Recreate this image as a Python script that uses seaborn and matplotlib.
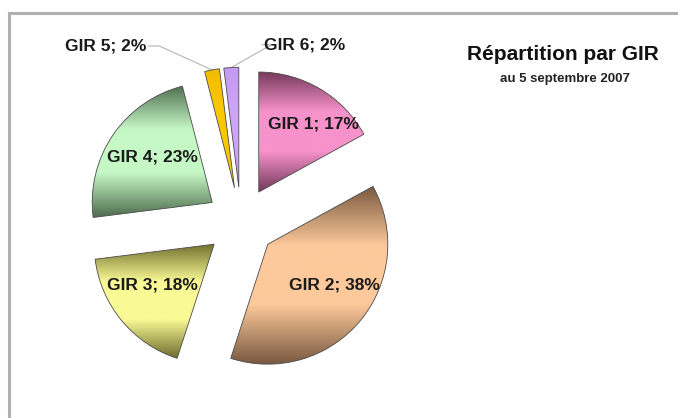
import numpy as np
import matplotlib
matplotlib.use('Agg')
import matplotlib.pyplot as plt
import seaborn as sns
from matplotlib.patches import Rectangle

# Data
categories = ['GIR 1', 'GIR 2', 'GIR 3', 'GIR 4', 'GIR 5', 'GIR 6']
shares = [17, 38, 18, 23, 2, 2]

# dark / light tones of each slice (vertical gradient dark-light-dark)
dark_tones = ['#74385a', '#7a5a40', '#6e6e2e', '#4f6e4f', '#f2bc00', '#c49af2']
light_tones = ['#f792cb', '#fdc99b', '#f9f995', '#c6f8c6', '#f8c800', '#cda4f8']

sns.set_theme(style='white')
plt.rcParams['font.family'] = ['Liberation Sans', 'DejaVu Sans']

W, H = 678, 418
R = 120.0            # pie radius in pixels
CX, CY = 241, 222    # pie centre in pixels (from top-left)

fig = plt.figure(figsize=(W / 100, H / 100), dpi=100)
ax = fig.add_axes([0, 0, 1, 1])

wedges, _ = ax.pie(shares, explode=[0.29] * len(shares), startangle=90,
                   counterclock=False, radius=1,
                   wedgeprops=dict(facecolor='none', edgecolor='#4a4a4a',
                                   linewidth=0.6, zorder=3))

# pixel frame -> data units
ax.set_xlim(-CX / R, (W - CX) / R)
ax.set_ylim((CY - H) / R, CY / R)
ax.set_aspect('equal', adjustable='box')
ax.axis('off')

# gradient fill clipped to each wedge
for w, d, l in zip(wedges, dark_tones, light_tones):
    ext = w.get_path().get_extents()
    grad = np.array(sns.blend_palette([d, l, l, d], n_colors=128))[:, None, :]
    im = ax.imshow(grad, extent=(ext.x0, ext.x1, ext.y0, ext.y1),
                   aspect='auto', origin='upper', zorder=2, interpolation='bilinear')
    im.set_clip_path(w)

# labels inside the big slices
label_dist = [0.73, 0.65, 0.62, 0.63]
label_turn = [8, -8, 6, 3]
for i in range(4):
    w = wedges[i]
    mid = np.deg2rad((w.theta1 + w.theta2) / 2 + (-label_turn[i]))
    x = w.center[0] + label_dist[i] * np.cos(mid)
    y = w.center[1] + label_dist[i] * np.sin(mid)
    ax.text(x, y, f'{categories[i]}; {shares[i]}%', ha='center', va='center',
            fontsize=12.5, fontweight='bold', color='#1a1a1a', zorder=5)

# small slices: outside labels with leader lines
for i, (dx, dy, ha, hook) in zip([4, 5], [(-0.55, 0.2, 'right', 0.11),
                                          (0.275, 0.19, 'left', -0.06)]):
    w = wedges[i]
    mid = np.deg2rad((w.theta1 + w.theta2) / 2)
    ox = w.center[0] + np.cos(mid)
    oy = w.center[1] + np.sin(mid)
    tx, ty = ox + dx, oy + dy
    sgn = 1 if ha == 'right' else -1
    ax.plot([ox, tx + sgn * hook, tx + sgn * 0.02], [oy, ty, ty],
            color='#b4b4b4', lw=0.8, zorder=1)
    ax.text(tx, ty, f'{categories[i]}; {shares[i]}%', ha=ha, va='center',
            fontsize=12.5, fontweight='bold', color='#1a1a1a', zorder=5)

# titles
fig.text(563 / W, 1 - 54 / H, 'Répartition par GIR', ha='center', va='center',
         fontsize=15, fontweight='bold', color='#111111')
fig.text(565 / W, 1 - 79 / H, 'au 5 septembre 2007', ha='center', va='center',
         fontsize=9.5, fontweight='bold', color='#222222')

# grey chart frame (runs off the right and bottom)
fig.patches.append(Rectangle((9 / W, -0.05), 1.2, 1 - 13 / H + 0.05,
                             transform=fig.transFigure, fill=False,
                             edgecolor='#b0b0b0', linewidth=2.2))

fig.savefig('out.png', dpi=100)
